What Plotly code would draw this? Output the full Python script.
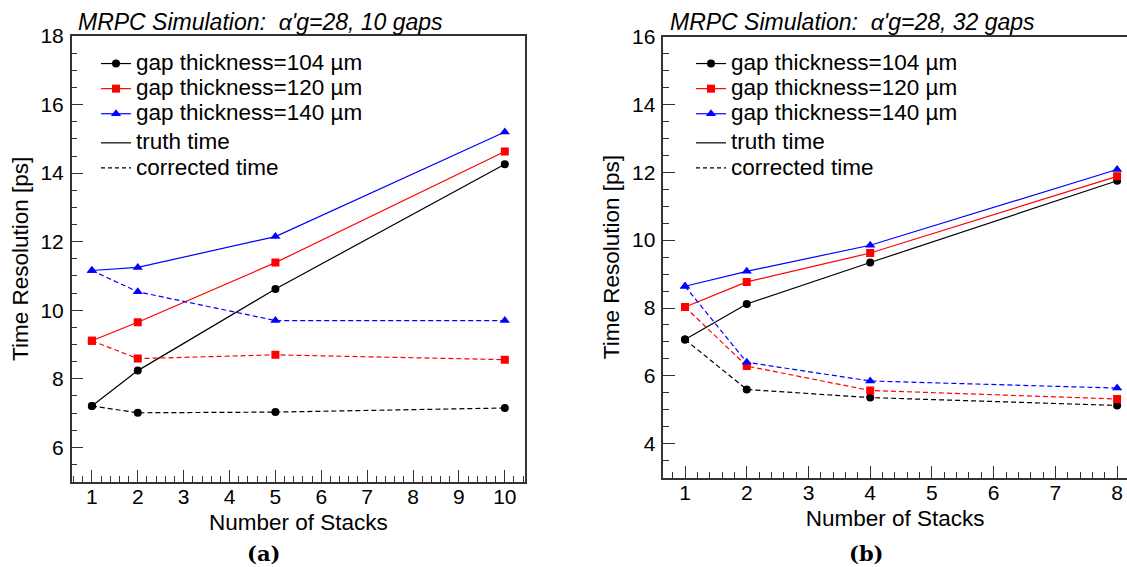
import plotly.graph_objects as go

# ---------------- data ----------------
stacks_a = [1, 2, 5, 10]
a_truth_104 = [7.21, 8.24, 10.62, 14.26]
a_truth_120 = [9.11, 9.65, 11.39, 14.63]
a_truth_140 = [11.16, 11.25, 12.15, 15.20]
a_corr_104 = [7.21, 7.01, 7.03, 7.15]
a_corr_120 = [9.11, 8.59, 8.70, 8.56]
a_corr_140 = [11.16, 10.54, 9.70, 9.70]

stacks_b = [1, 2, 4, 8]
b_truth_104 = [7.07, 8.12, 9.34, 11.75]
b_truth_120 = [8.03, 8.77, 9.62, 11.88]
b_truth_140 = [8.64, 9.08, 9.85, 12.08]
b_corr_104 = [7.07, 5.60, 5.36, 5.13]
b_corr_120 = [8.03, 6.29, 5.57, 5.32]
b_corr_140 = [8.64, 6.40, 5.85, 5.64]

xticks_a = [1, 2, 3, 4, 5, 6, 7, 8, 9, 10]
xticks_b = [1, 2, 3, 4, 5, 6, 7, 8]
gap_labels = ["gap thickness=104 µm", "gap thickness=120 µm", "gap thickness=140 µm"]
style_labels = ["truth time", "corrected time"]
panel_titles = ["MRPC Simulation:\u00a0 α'g=28, 10 gaps", "MRPC Simulation:\u00a0 α'g=28, 32 gaps"]
panel_tags = ["(a)", "(b)"]

colors = ["#000000", "#ff0000", "#0000ff"]
symbols = ["circle", "square", "triangle-up"]
msizes = [8, 8, 9]

SANS = "Liberation Sans, Arial, sans-serif"
BIG = 22.5


def big(t):
    return '<span style="font-size:%spx">%s</span>' % (BIG, t)


fig = go.Figure()

panels = [
    ("x", "y", "legend", stacks_a,
     [a_truth_104, a_truth_120, a_truth_140],
     [a_corr_104, a_corr_120, a_corr_140]),
    ("x2", "y2", "legend2", stacks_b,
     [b_truth_104, b_truth_120, b_truth_140],
     [b_corr_104, b_corr_120, b_corr_140]),
]

for xa, ya, lg, xs, truths, corrs in panels:
    for i in range(3):
        fig.add_trace(go.Scatter(
            x=xs, y=truths[i], xaxis=xa, yaxis=ya, mode="lines+markers",
            line=dict(color=colors[i], width=1.2),
            marker=dict(color=colors[i], symbol=symbols[i], size=msizes[i]),
            name=big(gap_labels[i]), legend=lg, legendgroup=lg + "gaps",
            showlegend=True))
    for i in range(3):
        fig.add_trace(go.Scatter(
            x=xs, y=corrs[i], xaxis=xa, yaxis=ya, mode="lines+markers",
            line=dict(color=colors[i], width=1.2, dash="5px,3px"),
            marker=dict(color=colors[i], symbol=symbols[i], size=msizes[i]),
            showlegend=False))
    fig.add_trace(go.Scatter(
        x=[None], y=[None], xaxis=xa, yaxis=ya, mode="lines",
        line=dict(color="#000000", width=1.2), name=big(style_labels[0]),
        legend=lg, legendgroup=lg + "style"))
    fig.add_trace(go.Scatter(
        x=[None], y=[None], xaxis=xa, yaxis=ya, mode="lines",
        line=dict(color="#000000", width=1.2, dash="4px,3px"), name=big(style_labels[1]),
        legend=lg, legendgroup=lg + "style"))

W, H = 1127, 567
axcol = "#333333"


def xax(domain, rng, ticks, anchor):
    return dict(domain=domain, range=rng, anchor=anchor, tickvals=ticks, automargin=False,
                ticks="inside", ticklen=12, tickwidth=1.2, tickcolor=axcol,
                showline=True, linecolor=axcol, linewidth=1.5, mirror=True,
                showgrid=False, zeroline=False,
                minor=dict(dtick=0.2, tick0=0, ticks="inside", ticklen=6,
                           tickwidth=1.2, tickcolor=axcol, showgrid=False),
                tickfont=dict(family=SANS, size=21, color="#000"),
                ticklabelstandoff=-5,
                title=dict(text="Number of Stacks", font=dict(family=SANS, size=BIG, color="#000"),
                           standoff=8))


def yax(domain, rng, anchor, mirror):
    return dict(domain=domain, range=rng, anchor=anchor, dtick=2, tick0=0, automargin=False,
                ticks="inside", ticklen=12, tickwidth=1.2, tickcolor=axcol,
                showline=True, linecolor=axcol, linewidth=1.5, mirror=mirror,
                showgrid=False, zeroline=False,
                minor=dict(dtick=0.5, tick0=0, ticks="inside", ticklen=6,
                           tickwidth=1.2, tickcolor=axcol, showgrid=False),
                tickfont=dict(family=SANS, size=21, color="#000"),
                ticklabelstandoff=2,
                title=dict(text="Time Resolution [ps]", font=dict(family=SANS, size=BIG, color="#000"),
                           standoff=6))


leg_common = dict(bgcolor="rgba(0,0,0,0)", borderwidth=0, xanchor="left", yanchor="top",
                  font=dict(family=SANS, size=17, color="#000"), tracegroupgap=4,
                  itemclick=False, itemdoubleclick=False)

fig.update_layout(
    width=W, height=H, margin=dict(l=0, r=0, t=0, b=0, autoexpand=False),
    paper_bgcolor="white", plot_bgcolor="white",
    xaxis=xax([71.7 / W, 525 / W], [0.56, 10.44], xticks_a, "y"),
    yaxis=yax([1 - 481.7 / H, 1 - 36 / H], [5.0, 18], "x", True),
    xaxis2=xax([663.3 / W, 1.0], [0.648, 8.16], xticks_b, "y2"),
    yaxis2=yax([1 - 477.7 / H, 1 - 36.5 / H], [3.0, 16], "x2", False),
    legend=dict(x=96 / W, y=1 - 46 / H, **leg_common),
    legend2=dict(x=691 / W, y=1 - 46 / H, **leg_common),
    showlegend=True,
)

fig.add_annotation(text="<i>%s</i>" % panel_titles[0], xref="paper", yref="paper",
                   x=76 / W, y=1 - 22.5 / H, xanchor="left", yanchor="middle", showarrow=False,
                   font=dict(family=SANS, size=23, color="#000"))
fig.add_annotation(text="<i>%s</i>" % panel_titles[1], xref="paper", yref="paper",
                   x=668 / W, y=1 - 22.5 / H, xanchor="left", yanchor="middle", showarrow=False,
                   font=dict(family=SANS, size=23, color="#000"))
fig.add_annotation(text="<b>%s</b>" % panel_tags[0], xref="paper", yref="paper",
                   x=263 / W, y=1 - 553 / H, xanchor="center", yanchor="middle", showarrow=False,
                   font=dict(family="DejaVu Serif, serif", size=21, color="#000"))
fig.add_annotation(text="<b>%s</b>" % panel_tags[1], xref="paper", yref="paper",
                   x=866 / W, y=1 - 553 / H, xanchor="center", yanchor="middle", showarrow=False,
                   font=dict(family="DejaVu Serif, serif", size=21, color="#000"))

fig.write_html("out.html")
